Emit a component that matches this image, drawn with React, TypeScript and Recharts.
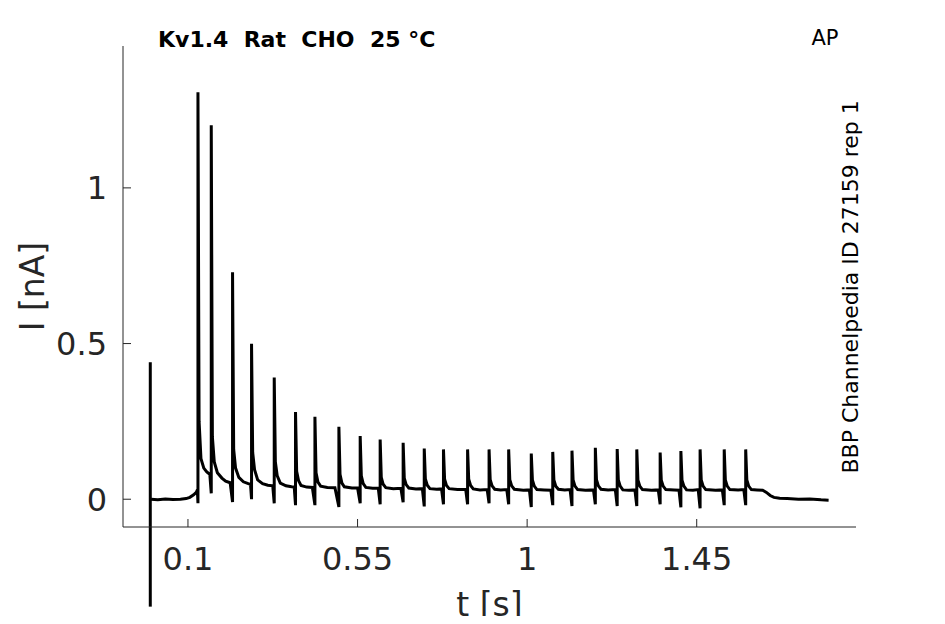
import { LineChart, Line, XAxis, YAxis, ReferenceLine } from 'recharts'

// AP-train response (t in s, I in nA)
const PEAK_T = [
  0.1265, 0.1618, 0.2183, 0.2687, 0.3289, 0.3854, 0.4369, 0.5005, 0.557,
  0.610, 0.671, 0.727, 0.778, 0.842, 0.899, 0.951, 1.011, 1.068,
  1.119, 1.181, 1.239, 1.291, 1.353, 1.408, 1.459, 1.523, 1.580,
]
const PEAK_I = [
  1.307, 1.201, 0.729, 0.499, 0.391, 0.280, 0.265, 0.233, 0.203,
  0.192, 0.181, 0.163, 0.160, 0.160, 0.160, 0.160, 0.147, 0.152,
  0.156, 0.165, 0.161, 0.160, 0.150, 0.155, 0.160, 0.160, 0.160,
]
const DIP_I = [
  -0.013, 0.019, -0.009, 0.0, -0.013, -0.019, -0.019, -0.025, -0.013,
  -0.016, -0.010, -0.023, -0.016, -0.016, -0.013, -0.016, -0.025, -0.019,
  -0.022, -0.016, -0.022, -0.022, -0.016, -0.026, -0.029, -0.019, -0.019,
]
// level ~3 ms and ~8 ms after each peak
const TAIL_EARLY = [
  0.25, 0.20, 0.16, 0.15, 0.12, 0.09, 0.085, 0.08, 0.075,
  0.07, 0.068, 0.065, 0.064, 0.064, 0.063, 0.063, 0.062, 0.062,
  0.062, 0.063, 0.062, 0.062, 0.061, 0.061, 0.062, 0.062, 0.062,
]
const TAIL_LATE = [
  0.13, 0.12, 0.10, 0.095, 0.075, 0.06, 0.055, 0.052, 0.05,
  0.048, 0.047, 0.045, 0.044, 0.044, 0.043, 0.043, 0.042, 0.042,
  0.042, 0.043, 0.042, 0.042, 0.042, 0.042, 0.042, 0.042, 0.042,
]

// holding level between the spikes
const BASE_T = [
  0.002, 0.02, 0.04, 0.06, 0.08, 0.095, 0.105, 0.115, 0.122, 0.125,
  0.142, 0.150, 0.158,
  0.178, 0.19, 0.20, 0.212,
  0.235, 0.247, 0.26, 0.266,
  0.285, 0.298, 0.312, 0.325,
  0.345, 0.36, 0.375, 0.382,
  0.40, 0.415, 0.43,
  0.452, 0.47, 0.49,
  0.515, 0.535, 0.55,
  0.572, 0.59, 0.605,
  0.625, 0.645, 0.665,
  0.686, 0.705, 0.722,
  0.742, 0.76, 0.773,
  0.793, 0.815, 0.837,
  0.857, 0.875, 0.894,
  0.914, 0.93, 0.946,
  0.966, 0.99, 1.006,
  1.026, 1.045, 1.063,
  1.083, 1.10, 1.114,
  1.134, 1.155, 1.176,
  1.196, 1.215, 1.234,
  1.254, 1.27, 1.286,
  1.306, 1.33, 1.348,
  1.368, 1.39, 1.403,
  1.423, 1.44, 1.454,
  1.474, 1.50, 1.518,
  1.538, 1.56, 1.575,
  1.595, 1.61, 1.625, 1.635, 1.645, 1.655, 1.67, 1.69, 1.72, 1.75, 1.78, 1.80,
]
const BASE_I = [
  0.0, -0.002, 0.001, -0.001, 0.0, 0.002, 0.006, 0.014, 0.022, 0.03,
  0.10, 0.088, 0.08,
  0.085, 0.068, 0.058, 0.053,
  0.07, 0.056, 0.05, 0.048,
  0.062, 0.05, 0.045, 0.043,
  0.052, 0.043, 0.04, 0.039,
  0.044, 0.039, 0.038,
  0.042, 0.038, 0.037,
  0.04, 0.036, 0.037,
  0.038, 0.035, 0.036,
  0.037, 0.034, 0.035,
  0.036, 0.033, 0.034,
  0.034, 0.032, 0.033,
  0.034, 0.031, 0.032,
  0.033, 0.030, 0.031,
  0.032, 0.030, 0.031,
  0.032, 0.029, 0.030,
  0.031, 0.030, 0.029,
  0.032, 0.030, 0.031,
  0.031, 0.029, 0.030,
  0.032, 0.030, 0.031,
  0.030, 0.029, 0.030,
  0.031, 0.029, 0.030,
  0.031, 0.030, 0.029,
  0.030, 0.029, 0.031,
  0.031, 0.029, 0.030,
  0.031, 0.030, 0.031,
  0.031, 0.030, 0.029, 0.022, 0.012, 0.006, 0.003, 0.002, 0.0, 0.001, -0.002, -0.003,
]

// capacitive artefact at t = 0
const STIM_T = 0
const STIM_TOP = 0.44
const STIM_BOTTOM = -0.345

const X_DOMAIN: [number, number] = [-0.0724, 1.8727]
const Y_DOMAIN: [number, number] = [-0.0892, 1.4557]
const X_TICKS = [0.1, 0.55, 1, 1.45]
const Y_TICKS = [0, 0.5, 1]

const INK = '#262626'
const FONT = '"DejaVu Sans", sans-serif'

type Pt = { t: number, i: number }

function buildTrace(): Pt[] {
  const pts: Pt[] = BASE_T.map((t, k) => ({ t, i: BASE_I[k] }))
  PEAK_T.forEach((t, k) => {
    pts.push({ t, i: DIP_I[k] })
    pts.push({ t, i: PEAK_I[k] })
    pts.push({ t: t + 0.003, i: TAIL_EARLY[k] })
    pts.push({ t: t + 0.008, i: TAIL_LATE[k] })
  })
  // stable sort keeps dip before peak
  return pts.sort((a, b) => a.t - b.t)
}

function YLabel({ viewBox }: any) {
  const vb = viewBox ?? { x: 0, y: 38, width: 115, height: 481 }
  const cx = vb.x + 24
  const cy = vb.y + vb.height / 2
  return (
    <text x={cx} y={cy} transform={`rotate(-90 ${cx} ${cy})`} textAnchor="middle"
          dominantBaseline="central" fontSize={33} fill={INK} fontFamily={FONT}>
      I [nA]
    </text>
  )
}

export default function App() {
  const data = buildTrace()
  // chart is 616 tall so the x label fits; negative margin keeps the page from scrolling
  return (
    <div style={{ position: 'relative', width: 929, height: 616, marginBottom: -8, fontFamily: FONT }}>
      <LineChart width={929} height={616} data={data}
                 margin={{ top: 38, right: 81, bottom: 0, left: 0 }}>
        <XAxis dataKey="t" type="number" domain={X_DOMAIN} ticks={X_TICKS}
               allowDataOverflow height={97} tickSize={-8} tickMargin={28}
               stroke={INK} tick={{ fill: INK, fontSize: 32, fontFamily: FONT }}
               tickFormatter={(v: number) => String(v)}
               label={{ value: 't [s]', position: 'insideBottom', offset: 8,
                        fontSize: 33, fill: INK, fontFamily: FONT }} />
        <YAxis type="number" domain={Y_DOMAIN} ticks={Y_TICKS} allowDataOverflow
               width={115} tickSize={-8} tickMargin={24}
               stroke={INK} tick={{ fill: INK, fontSize: 32, fontFamily: FONT }}
               tickFormatter={(v: number) => String(v)}
               label={<YLabel />} />
        <ReferenceLine segment={[{ x: STIM_T, y: STIM_TOP }, { x: STIM_T, y: STIM_BOTTOM }]}
                       stroke="#000" strokeWidth={3} ifOverflow="visible" />
        <Line dataKey="i" type="linear" stroke="#000" strokeWidth={3} dot={false}
              isAnimationActive={false} />
      </LineChart>
      <svg width={929} height={616} style={{ position: 'absolute', left: 0, top: 0, pointerEvents: 'none' }}>
        <text x={150} y={38.5} fontSize={22} fontWeight="bold" fill="#000"
              fontFamily={FONT} style={{ whiteSpace: 'pre' }}>
          {'Kv1.4  Rat  CHO  25 °C'}
        </text>
        <text x={803.5} y={37} fontSize={21} fill="#000" fontFamily={FONT}>AP</text>
        <text transform="translate(849.5 465.5) rotate(-90)" fontSize={22} fill="#000"
              fontFamily={FONT}>
          BBP Channelpedia ID 27159 rep 1
        </text>
      </svg>
    </div>
  )
}
